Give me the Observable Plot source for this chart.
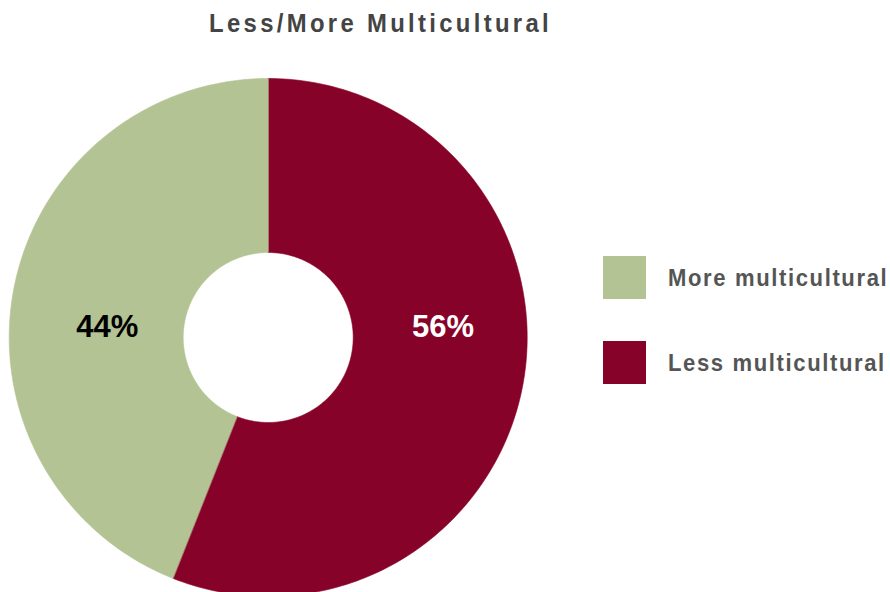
<!DOCTYPE html>
<html><head><meta charset="utf-8">
<script src="https://cdn.jsdelivr.net/npm/d3@7"></script>
<script src="https://cdn.jsdelivr.net/npm/@observablehq/plot@0.6"></script>
<style>
body{margin:0;background:#fff;}
#wrap{position:relative;width:890px;height:592px;overflow:hidden;background:#fff;}
#wrap svg{position:absolute;left:0;top:0;}
#title{position:absolute;left:0;top:8px;width:762px;text-align:center;}
#title span{display:inline-block;transform:scaleX(0.9);transform-origin:center;font-family:"Liberation Sans",Arial,sans-serif;font-weight:bold;font-size:26.5px;letter-spacing:3.7px;color:#444;white-space:nowrap;}
#legend{position:absolute;left:603px;top:256px;}
.item{display:flex;align-items:center;height:43px;margin-bottom:42px;white-space:nowrap;}
.sw{width:43px;height:43px;margin-right:22px;flex:none;}
.lt{display:inline-block;transform:scaleX(0.9);transform-origin:left center;font-family:"Liberation Sans",Arial,sans-serif;font-weight:bold;font-size:24.5px;letter-spacing:1.8px;color:#555;}
</style></head><body>
<div id="wrap"><div id="title"><span></span></div><div id="legend"></div></div>
<script>
const title = "Less/More Multicultural";
const categories = ["Less multicultural", "More multicultural"];
const values = [56, 44];
const colors = ["#870229", "#b3c393"];
const labelColors = ["#ffffff", "#000000"];
const legendOrder = ["More multicultural", "Less multicultural"];

document.querySelector("#title span").textContent = title;

const data = categories.map((c, i) => ({category: c, value: values[i]}));
const arcs = d3.pie().sort(null).value(d => d.value)(data);
const inner = 85 / 259;
const N = 180;
const points = [];
arcs.forEach(a => {
  const k = a.data.category;
  for (let i = 0; i <= N; i++) {
    const t = a.startAngle + (a.endAngle - a.startAngle) * i / N;
    points.push({key: k, x: Math.sin(t), y: Math.cos(t)});
  }
  for (let i = N; i >= 0; i--) {
    const t = a.startAngle + (a.endAngle - a.startAngle) * i / N;
    points.push({key: k, x: inner * Math.sin(t), y: inner * Math.cos(t)});
  }
});
const labels = arcs.map((a, i) => {
  const mid = (a.startAngle + a.endAngle) / 2;
  return {text: a.data.value + "%", x: 0.66 * Math.sin(mid), y: 0.04, fill: labelColors[i]};
});

const chart = Plot.plot({
  width: 890, height: 592,
  margin: 0,
  x: {domain: [-1, 1], range: [8.7, 526.7], axis: null},
  y: {domain: [-1, 1], range: [596, 78], axis: null},
  color: {domain: categories, range: colors},
  marks: [
    Plot.line(points, {x: "x", y: "y", z: "key", fill: "key", stroke: "key", strokeWidth: 0.6, curve: "linear-closed"}),
    ...labels.map(l => Plot.text([l], {x: "x", y: "y", dx: 7, text: "text", fill: l.fill, fontSize: 31, fontWeight: "bold", fontFamily: "Liberation Sans, Arial, sans-serif"}))
  ]
});
document.getElementById("wrap").appendChild(chart);

const legend = document.getElementById("legend");
legendOrder.forEach(name => {
  const item = document.createElement("div");
  item.className = "item";
  const sw = document.createElement("div");
  sw.className = "sw";
  sw.style.background = colors[categories.indexOf(name)];
  const lt = document.createElement("span");
  lt.className = "lt";
  lt.textContent = name;
  item.appendChild(sw); item.appendChild(lt);
  legend.appendChild(item);
});
</script>
</body></html>
